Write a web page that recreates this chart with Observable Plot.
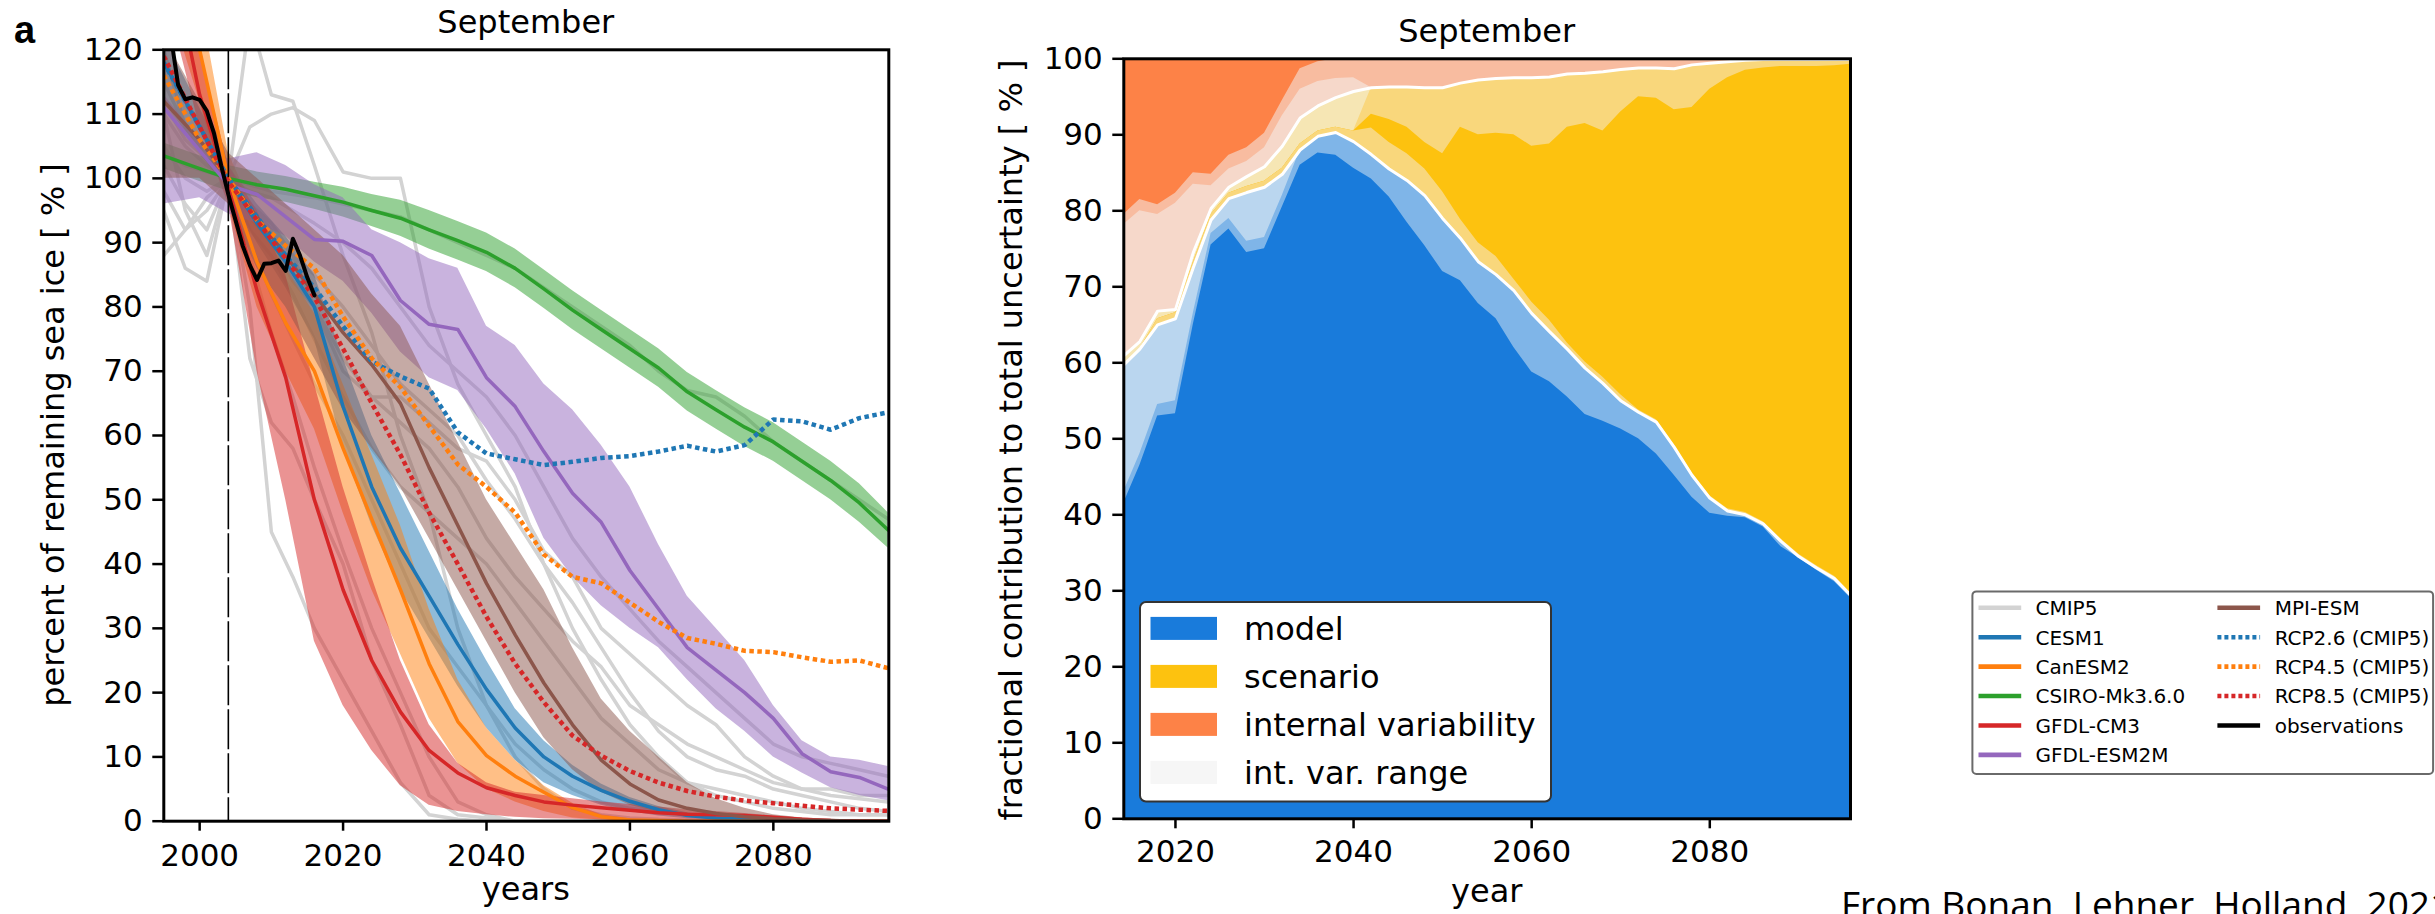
<!DOCTYPE html>
<html><head><meta charset="utf-8">
<script src="https://cdn.jsdelivr.net/npm/d3@7"></script>
<script src="https://cdn.jsdelivr.net/npm/@observablehq/plot@0.6"></script>
<style>
html,body{margin:0;padding:0;background:#fff;}
body{width:2435px;height:914px;overflow:hidden;position:relative;font-family:"DejaVu Sans",sans-serif;}
.holder{position:absolute;top:0;}
</style></head><body>
<div id="leftHolder" class="holder" style="left:0px;width:900px;height:914px"></div>
<div id="rightHolder" class="holder" style="left:1000px;width:870px;height:914px"></div>
<script>
// ---------------- LEFT PANEL DATA ----------------
const xTicksLeft = [2000, 2020, 2040, 2060, 2080];
const yTicksLeft = [0,10,20,30,40,50,60,70,80,90,100,110,120];
const modelYears = [1995,2000,2004,2008,2012,2016,2020,2024,2028,2032,2036,2040,2044,2048,2052,2056,2060,2064,2068,2072,2076,2080,2084,2088,2092,2096];

const cesm1Mean = [118,108,100,93,87,80,64.5,52,42.5,35,27.5,20.5,14.5,10,7,4.8,3.1,1.8,0.9,0.5,0.3,0.15,0.1,0.05,0,0];
const cesm1Lo   = [112,104,98,90,83,75,58,46,36,28.5,21,14.5,9.5,6,4,2.5,1.5,0.8,0.4,0.2,0.1,0,0,0,0,0];
const cesm1Hi   = [122,111,102,96,91,85,72,60,51,42,33,25,17.5,12.5,8.7,5.8,3.7,2.3,1.3,0.7,0.4,0.2,0.1,0.05,0,0];

const canesmMean = [140,120,100,87,77.5,70,58,47,36,24.5,15.5,10.2,7,4.5,2.1,0.7,0.2,0.1,0,0,0,0,0,0,0,0];
const canesmLo   = [130,112,96,80,70,61,48,36,26,16,9,5,3,1.5,0.5,0.2,0,0,0,0,0,0,0,0,0,0];
const canesmHi   = [150,128,104,94,86,79,68,57,46,33,22,14.5,9.5,5.5,2.8,1,0.4,0.2,0,0,0,0,0,0,0,0];

const csiroMean = [103.5,101.5,100,99,98.3,97.3,96.3,95,93.8,92,90.3,88.5,86,82.8,79.5,76.5,73.5,70.5,66.8,64,61.3,59,56,53,49.5,45.3];
const csiroLo   = [101.5,99.5,98,97,96.3,95.2,94,92.5,91,89,87.3,85.5,83,79.8,76.5,73.5,70.5,67.5,63.8,61,58.3,56,53,50,46.5,42.5];
const csiroHi   = [105.5,103.5,102,101,100.3,99.4,98.6,97.5,96.6,95,93.3,91.5,89,85.8,82.5,79.5,76.5,73.5,69.8,67,64.3,62,59,56,52.5,48];

const gfdlcm3Mean = [140,113,98.5,82.5,69,50,36,25,17,11,7.5,5.2,4,3,2.5,2.1,1.7,1.3,1.1,1,0.9,0.6,0.3,0.1,0,0];
const gfdlcm3Lo   = [130,108,96,70,50,28,18,11,5.5,2.5,1.5,1,0.6,0.4,0.3,0.2,0.1,0,0,0,0,0,0,0,0,0];
const gfdlcm3Hi   = [150,120,102,95,85,68,52,38,25,15,9,6,4.5,4,3.5,3,2.6,2.2,1.8,1.5,1.2,0.8,0.5,0.3,0.1,0];

const esm2mMean = [111,104.3,99,97.5,94,90.5,90.2,88,81,77.3,76.5,69,64.5,57.5,51,46.5,39,33,27,23.5,20,16,10.5,7.7,6.8,5];
const esm2mLo   = [96,97,94.5,93,91,87,84,79,73,69,67,61,54,44,38,33.5,30,27,22,17.5,14,10,7.5,5.2,4,3.2];
const esm2mHi   = [113,106,103,104,102,99,97,92,90,87.5,86,77,74,68,64,58.5,52,43,35,30,25,18,12.5,10,9.5,8.5];

const mpiMean = [112,106,100,94,88,82,76,71,65,55,46,37,29,21.5,15,9.5,5.8,3.3,2,1.2,0.7,0.4,0.2,0.1,0,0];
const mpiLo   = [100,100,96,86,80,72,64,58,52,44,36,28,20,13,8,4.5,2.5,1.4,0.8,0.4,0.2,0.1,0,0,0,0];
const mpiHi   = [122,112,104,100,96,92,88,82,77,68,59,50,43,36,27,19,14,10,6,3.5,2,1,0.5,0.2,0,0];

const rcp26 = [118,108,100,94,88,83,77,71.5,69.2,67.3,60.5,57.2,56.3,55.4,55.9,56.5,56.8,57.5,58.4,57.5,58.5,62.5,62.2,60.9,62.7,63.6];
const rcp45 = [116,106,100,93.5,89.5,86,78.5,72,67.5,61.5,55.5,52,48,41.5,38,37,34,31,28.5,27.6,26.5,26.3,25.5,24.8,25,23.8];
const rcp85 = [119,108,99.5,93.5,87.5,81.5,73.5,65,57,48,40,31.8,24.5,18.5,13.3,10.2,7.8,6,4.7,3.8,3.2,2.8,2.4,2,1.8,1.6];

const obsYears  = [1995,1996,1997,1998,1999,2000,2001,2002,2003,2004,2005,2006,2007,2008,2009,2010,2011,2012,2013,2014,2015,2016];
const obsValues = [127,122,114.5,112.3,112.6,112.2,110.5,107,102,97.5,93.5,89.5,86.5,84.2,86.7,86.8,87.2,85.6,90.6,88,84.6,81.8];

const cmip5Years = [1995,1998,2001,2004,2007,2010,2013,2016,2020,2024,2028,2032,2036,2040,2044,2048,2052,2056,2060,2064,2068,2072,2076,2080,2084,2088,2092,2096];
const cmip5Runs = [
  [110,95,88,100,80,45,38,30,22,14,6,1,0.3,0,0,0,0,0,0,0,0,0,0,0,0,0,0,0],
  [95,86,84,100,72,62,58,50,40,25,15,4,1,0.5,0,0,0,0,0,0,0,0,0,0,0,0,0,0],
  [88,92,97,100,125,113,112,102,88,76,60,48,30,18,10,5,2,1,0.5,0.3,0.2,0,0,0,0,0,0,0],
  [120,108,103,100,108,110,111,109,101,100,100,80,68,60,52,40,30,22,15,10,6,4,3,2,1.5,1,1,1],
  [104,102,101,100,99,98,97.5,97,96,95,94,92,90,88,86,83,80,77,74,70,67,66,63,59,56,53,50,47],
  [110,105,102,100,98,97,95,93,90,86,80,74,70,66,60,52,44,38,33,28,24,20,16,12,10,9,8,7],
  [112,106,103,100,96,92,88,85,80,74,68,64,60,53,47,40,34,27,20,14,10,8,7,5,4,3,2,1.5],
  [98,92,95,100,94,90,84,80,72,66,62,58,52,44,38,33,28,24,18,15,12,10,8,6,5,4,3.5,3],
  [105,100,98,100,90,82,75,68,60,50,40,30,24,18,12,8,5,3,2,1.5,1,0.5,0.3,0.2,0,0,0,0],
  [115,108,104,100,96,93,88,80,70,66,66,62,58,56,50,42,38,30,26,22,18,15,10,7,5,5,4,4],
  [118,112,106,100,88,76,66,55,42,30,20,10,3,1,0,0,0,0,0,0,0,0,0,0,0,0,0,0],
  [102,96,92,100,92,88,82,75,66,58,52,48,44,40,34,28,22,16,12,8,6,5,4,3,2,1.5,1,1]
];

const legendLeftNames  = ["CMIP5","CESM1","CanESM2","CSIRO-Mk3.6.0","GFDL-CM3","GFDL-ESM2M","MPI-ESM","RCP2.6 (CMIP5)","RCP4.5 (CMIP5)","RCP8.5 (CMIP5)","observations"];
const legendLeftColors = ["#d3d3d3","#1f77b4","#ff7f0e","#2ca02c","#d62728","#9467bd","#8c564b","#1f77b4","#ff7f0e","#d62728","#000000"];
const legendLeftDotted = [false,false,false,false,false,false,false,true,true,true,false];

// ---------------- RIGHT PANEL DATA ----------------
const xTicksRight = [2020, 2040, 2060, 2080];
const yTicksRight = [0,10,20,30,40,50,60,70,80,90,100];
const fracYears = [2014,2016,2018,2020,2022,2024,2026,2028,2030,2032,2034,2036,2038,2040,2042,2044,2046,2048,2050,2052,2054,2056,2058,2060,2062,2064,2066,2068,2070,2072,2074,2076,2078,2080,2082,2084,2086,2088,2090,2092,2094,2096];
// boundaries (cumulative %, bottom to top)
const modelCore   = [41,46.5,53,53.3,65,75.5,77.6,74.5,75,80.5,86,87.6,87.3,85.6,84.2,81.8,78.5,75.4,72,70.8,67.8,65.8,62,58.8,57.5,55.5,53.2,52.3,51.3,50,48,45.2,42.3,40.2,39.8,39.6,38.4,35.8,34.3,32.7,31.2,28.8];
const modelRange1 = [42.5,48,54.5,55,66.5,77,79,76,76.5,82,88,89.8,90.3,89.1,87.4,85.5,84,82,79,76.4,73.3,71.6,69.5,66.5,64.1,61.8,59.3,57.3,55,53.5,52.2,48.9,45.2,42.2,40.5,40,38.8,36.5,34.5,33,31.6,29.2];
const modelTop    = [59.5,61.8,65,65.8,72.5,78.8,81.6,82.4,83.1,84.8,88,89.8,90.3,89.1,87.4,85.5,84,82,79,76.4,73.3,71.6,69.5,66.5,64.1,61.8,59.3,57.3,55,53.5,52.2,48.9,45.2,42.2,40.5,40,38.8,36.5,34.5,33,31.6,29.2];
const scenLow     = [59.5,61.8,65.8,66.6,73.2,79.5,82.3,83.2,83.9,85.6,88.8,90.5,91,90.5,90.9,89,87.5,85.5,82.5,78.9,75.8,74,71,68,65.6,62.6,60.1,58.1,55.8,53.8,52.5,49.2,45.5,42.5,40.8,40.3,39.1,36.8,34.8,33.3,31.9,29.5];
const scenCoreTop = [59.5,61.8,65.8,66.6,73.2,79.5,82.3,83.2,83.9,85.6,88.8,90.5,91,90.5,92.7,92,91,89,87.5,91,90,90.2,90,88.5,88.8,91,91.5,90.5,93,95,94.8,93.3,93.6,96,97.5,98.5,98.8,99,99,99,99.1,99.3];
const scenTop     = [60.7,62.8,66.8,67,74.5,80.3,83.1,84.5,85.8,88.5,92.2,93.8,94.9,95.7,96.2,96.3,96.3,96.2,96.2,96.8,97.2,97.4,97.5,97.5,97.6,98,98.1,98.3,98.6,98.8,98.8,98.7,99.2,99.4,99.6,99.8,99.9,99.9,99.9,99.9,99.9,99.9];
const scenRangeTopEarly = [59.5,61.8,65.8,66.6,73.2,79.5,82.3,83.2,83.9,85.6,88.8,90.5,91,90.5];
const intPaleTopEarly   = [78,80,79.5,81,83.5,83.3,85.5,86.5,88.3,92.5,96,97,97.4,97.5];
const intCoreBottom     = [79.3,81.5,80.8,82.3,85,84.8,87.3,88.3,90.2,94.5,98.7,99.6,100,100,100,100,100,100,100,100,100,100,100,100,100,100,100,100,100,100,100,100,100,100,100,100,100,100,100,100,100,100];
const legendRightNames  = ["model","scenario","internal variability","int. var. range"];
const legendRightColors = ["#197bdb","#fdc20f","#fd8247","#f6f6f6"];

// ---------------- BUILD LEFT ----------------
const rowsOf = (m, lo, hi) => modelYears.map((yr, k) => ({year: yr, mean: m[k], lo: lo[k], hi: hi[k]}));
const models = [
  {rows: rowsOf(cesm1Mean, cesm1Lo, cesm1Hi), color: "#1f77b4"},
  {rows: rowsOf(canesmMean, canesmLo, canesmHi), color: "#ff7f0e"},
  {rows: rowsOf(csiroMean, csiroLo, csiroHi), color: "#2ca02c"},
  {rows: rowsOf(gfdlcm3Mean, gfdlcm3Lo, gfdlcm3Hi), color: "#d62728"},
  {rows: rowsOf(esm2mMean, esm2mLo, esm2mHi), color: "#9467bd"},
  {rows: rowsOf(mpiMean, mpiLo, mpiHi), color: "#8c564b"}
];
const greyRows = cmip5Runs.flatMap((vals, j) => cmip5Years.map((yr, k) => ({id: j, year: yr, v: vals[k]})));
const rcpSets = [{v: rcp26, color: "#1f77b4"}, {v: rcp45, color: "#ff7f0e"}, {v: rcp85, color: "#d62728"}];
const obsRows = obsYears.map((yr, k) => ({year: yr, v: obsValues[k]}));

const leftMarks = [
  Plot.line(greyRows, {x: "year", y: "v", z: "id", stroke: "#d3d3d3", strokeWidth: 3.5, clip: true}),
  ...models.map(m => Plot.areaY(m.rows, {x: "year", y1: "lo", y2: "hi", fill: m.color, fillOpacity: 0.5, clip: true})),
  ...models.map(m => Plot.line(m.rows, {x: "year", y: "mean", stroke: m.color, strokeWidth: 3.5, clip: true})),
  ...rcpSets.map(r => Plot.line(modelYears.map((yr, k) => ({year: yr, v: r.v[k]})), {x: "year", y: "v", stroke: r.color, strokeWidth: 4.5, strokeDasharray: "4.5,3.5", strokeLinecap: "butt", strokeLinejoin: "miter", clip: true})),
  Plot.line(obsRows, {x: "year", y: "v", stroke: "black", strokeWidth: 4, clip: true}),
  Plot.ruleX([2004], {stroke: "black", strokeWidth: 1.6, strokeDasharray: "40,4"}),
  Plot.axisX({ticks: xTicksLeft, tickFormat: "d", tickSize: 10, tickPadding: 13, fontSize: 31, label: null, strokeWidth: 2.5}),
  Plot.axisY({ticks: yTicksLeft, tickFormat: "d", tickSize: 11, tickPadding: 10, fontSize: 31, label: null, strokeWidth: 2.5}),
  Plot.frame({stroke: "black", strokeWidth: 3})
];

const leftPlot = Plot.plot({
  width: 900, height: 914,
  marginLeft: 163.3, marginRight: 11.7, marginTop: 49.3, marginBottom: 93.3,
  x: {domain: [1995, 2096.1]},
  y: {domain: [0, 120]},
  style: {fontFamily: "DejaVu Sans", background: "transparent", color: "black", overflow: "visible"},
  marks: leftMarks
});
document.getElementById("leftHolder").appendChild(leftPlot);

// ---------------- BUILD RIGHT ----------------
const scenRangeTop = scenRangeTopEarly.concat(scenTop.slice(scenRangeTopEarly.length));
const intPaleTop = intPaleTopEarly.concat(scenTop.slice(intPaleTopEarly.length));
const hundred = fracYears.map(() => 100);
// painter's order: topmost layer first, each filled from 0 to its top boundary
const layers = [
  {top: hundred, color: "#fd8247"},
  {top: intCoreBottom, color: "#f8bca0"},
  {top: intPaleTop, color: "#f6d8ca"},
  {top: scenTop, color: "#f6e6b4"},
  {top: scenRangeTop, color: "#f9d77c"},
  {top: scenCoreTop, color: "#fdc20f"},
  {top: scenLow, color: "#f9d77c"},
  {top: modelTop, color: "#bad6ef"},
  {top: modelRange1, color: "#7fb5e8"},
  {top: modelCore, color: "#197bdb"}
];
const fracRows = arr => fracYears.map((yr, k) => ({year: yr, v: arr[k]}));
const rightMarks = [
  ...layers.map(l => Plot.areaY(fracRows(l.top), {x: "year", y1: 0, y2: "v", fill: l.color, clip: true})),
  Plot.line(fracRows(modelTop), {x: "year", y: "v", stroke: "white", strokeWidth: 3, clip: true}),
  Plot.line(fracRows(scenTop), {x: "year", y: "v", stroke: "white", strokeWidth: 3, clip: true}),
  Plot.axisX({ticks: xTicksRight, tickFormat: "d", tickSize: 10, tickPadding: 11, fontSize: 31, label: null, strokeWidth: 2.5}),
  Plot.axisY({ticks: yTicksRight, tickFormat: "d", tickSize: 11, tickPadding: 10, fontSize: 31, label: null, strokeWidth: 2.5}),
  Plot.frame({stroke: "black", strokeWidth: 3})
];
const rightPlot = Plot.plot({
  width: 870, height: 914,
  marginLeft: 123.3, marginRight: 20, marginTop: 58.3, marginBottom: 95.7,
  x: {domain: [2014.2, 2095.8]},
  y: {domain: [0, 100]},
  style: {fontFamily: "DejaVu Sans", background: "transparent", color: "black", overflow: "visible"},
  marks: rightMarks
});
document.getElementById("rightHolder").appendChild(rightPlot);

// ---------------- TEXT & LEGENDS OVERLAY ----------------
const ov = d3.select("body").append("svg")
  .attr("width", 2435).attr("height", 914)
  .style("position", "absolute").style("left", "0px").style("top", "0px")
  .style("pointer-events", "none")
  .style("font-family", "'DejaVu Sans', sans-serif");

const txt = (x, y, s, size, opts = {}) => {
  const t = ov.append("text").attr("x", x).attr("y", y).text(s)
    .attr("font-size", size).attr("fill", opts.fill || "#000")
    .attr("text-anchor", opts.anchor || "start");
  if (opts.rotate) t.attr("transform", `rotate(-90 ${x} ${y})`);
  if (opts.weight) t.attr("font-weight", opts.weight);
  if (opts.family) t.attr("font-family", opts.family);
  return t;
};

txt(14, 43, "a", 38, {weight: "bold", family: "'Liberation Sans', Arial, sans-serif"});
txt(525.8, 33, "September", 32, {anchor: "middle"});
txt(1486.7, 42, "September", 32, {anchor: "middle"});
txt(525.8, 900, "years", 32, {anchor: "middle"});
txt(1486.7, 902, "year", 32, {anchor: "middle"});
txt(64, 435, "percent of remaining sea ice [ % ]", 32, {anchor: "middle", rotate: true});
txt(1022, 440, "fractional contribution to total uncertainty [ % ]", 32, {anchor: "middle", rotate: true});
txt(1841, 918, "From Bonan, Lehner, Holland, 2021", 37, {family: "'Open Sans', sans-serif"});

// right (inner) legend
ov.append("rect").attr("x", 1140).attr("y", 602).attr("width", 411).attr("height", 199.5)
  .attr("rx", 6).attr("fill", "white")
  .attr("stroke", "#333").attr("stroke-width", 2);
legendRightNames.forEach((n, k) => {
  const cy = 628.4 + k * 48;
  ov.append("rect").attr("x", 1150.5).attr("y", cy - 11.5).attr("width", 66.5).attr("height", 23)
    .attr("fill", legendRightColors[k]);
  txt(1244, cy + 11.5, n, 32);
});

// left-panel legend (placed at far right)
ov.append("rect").attr("x", 1972.4).attr("y", 591.4).attr("width", 460.7).attr("height", 182.6)
  .attr("rx", 4).attr("fill", "white").attr("stroke", "#6a6a6a").attr("stroke-width", 2);
legendLeftNames.forEach((n, k) => {
  const col = k < 6 ? 0 : 1;
  const row = k < 6 ? k : k - 6;
  const cy = 607.8 + row * 29.42;
  const sx = col === 0 ? 1978.5 : 2217.4;
  const tx = col === 0 ? 2035.5 : 2274.7;
  const ln = ov.append("line").attr("x1", sx).attr("x2", sx + 42.7).attr("y1", cy).attr("y2", cy)
    .attr("stroke", legendLeftColors[k]).attr("stroke-width", 4.6);
  if (legendLeftDotted[k]) ln.attr("stroke-dasharray", "4,3");
  txt(tx, cy + 7.3, n, 20);
});
</script>
</body></html>
